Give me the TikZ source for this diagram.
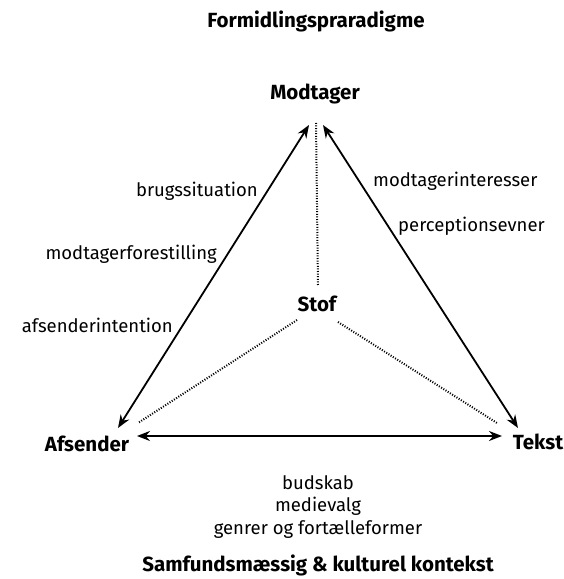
\documentclass[tikz,border=0pt]{standalone}
\usepackage{fontspec}
\setmainfont{Fira Sans}
\usetikzlibrary{arrows.meta}

\begin{document}
\begin{tikzpicture}[x=1pt,y=1pt]
        \tikzstyle{every node}=[inner sep=0pt, font=\fontsize{18.5}{22}\selectfont]
        \tikzstyle{corner}=[font=\fontsize{20.5}{24}\selectfont\bfseries]
        \tikzstyle{arrow}=[line width=1.8pt, {Stealth[length=13pt,width=10pt]}-{Stealth[length=13pt,width=10pt]}]
        \tikzstyle{faint}=[line width=2pt, dash pattern=on 1pt off 1.6pt]
        \useasboundingbox (0,0) rectangle (564,579);
        \node[corner,anchor=base] (title) at (316,551) {Formidlingspraradigme};
        \node[corner,anchor=base] (modtager) at (315,479) {Modtager};
        \node[corner,anchor=base] (afsender) at (87,127) {Afsender};
        \node[corner,anchor=base] (tekst) at (538,129) {Tekst};
        \node[corner,anchor=base] (stof) at (317,267) {Stof};
        % ends of the connectors
        \coordinate (mL) at (309,454); \coordinate (mC) at (316,456); \coordinate (mR) at (323,454);
        \coordinate (aU) at (118,151); \coordinate (aR) at (137,143); \coordinate (aS) at (138,156);
        \coordinate (tU) at (518,151); \coordinate (tL) at (502,143); \coordinate (tS) at (497,156);
        \coordinate (sU) at (318,294); \coordinate (sL) at (297,259); \coordinate (sR) at (338,257);
        \draw[arrow] (mL) -- (aU);
        \draw[arrow] (mR) -- (tU);
        \draw[arrow] (aR) -- (tL);
        \draw[faint] (sU) -- (mC);
        \draw[faint] (sL) -- (aS);
        \draw[faint] (sR) -- (tS);
        % labels along the sides
        \node[anchor=base east] (brug) at (258,382) {brugssituation};
        \node[anchor=base east] (forest) at (217,319) {modtagerforestilling};
        \node[anchor=base east] (intent) at (173,246) {afsenderintention};
        \node[anchor=base west] (interes) at (373,392) {modtagerinteresser};
        \node[anchor=base west] (percep) at (398,347) {perceptionsevner};
        \node[anchor=base] (budskab) at (318,89) {budskab};
        \node[anchor=base] (medie) at (318,67) {medievalg};
        \node[anchor=base] (genrer) at (318,45) {genrer og fortælleformer};
        \node[corner,anchor=base] (kontekst) at (318,7) {Samfundsmæssig \& kulturel kontekst};
    \end{tikzpicture}
\end{document}
